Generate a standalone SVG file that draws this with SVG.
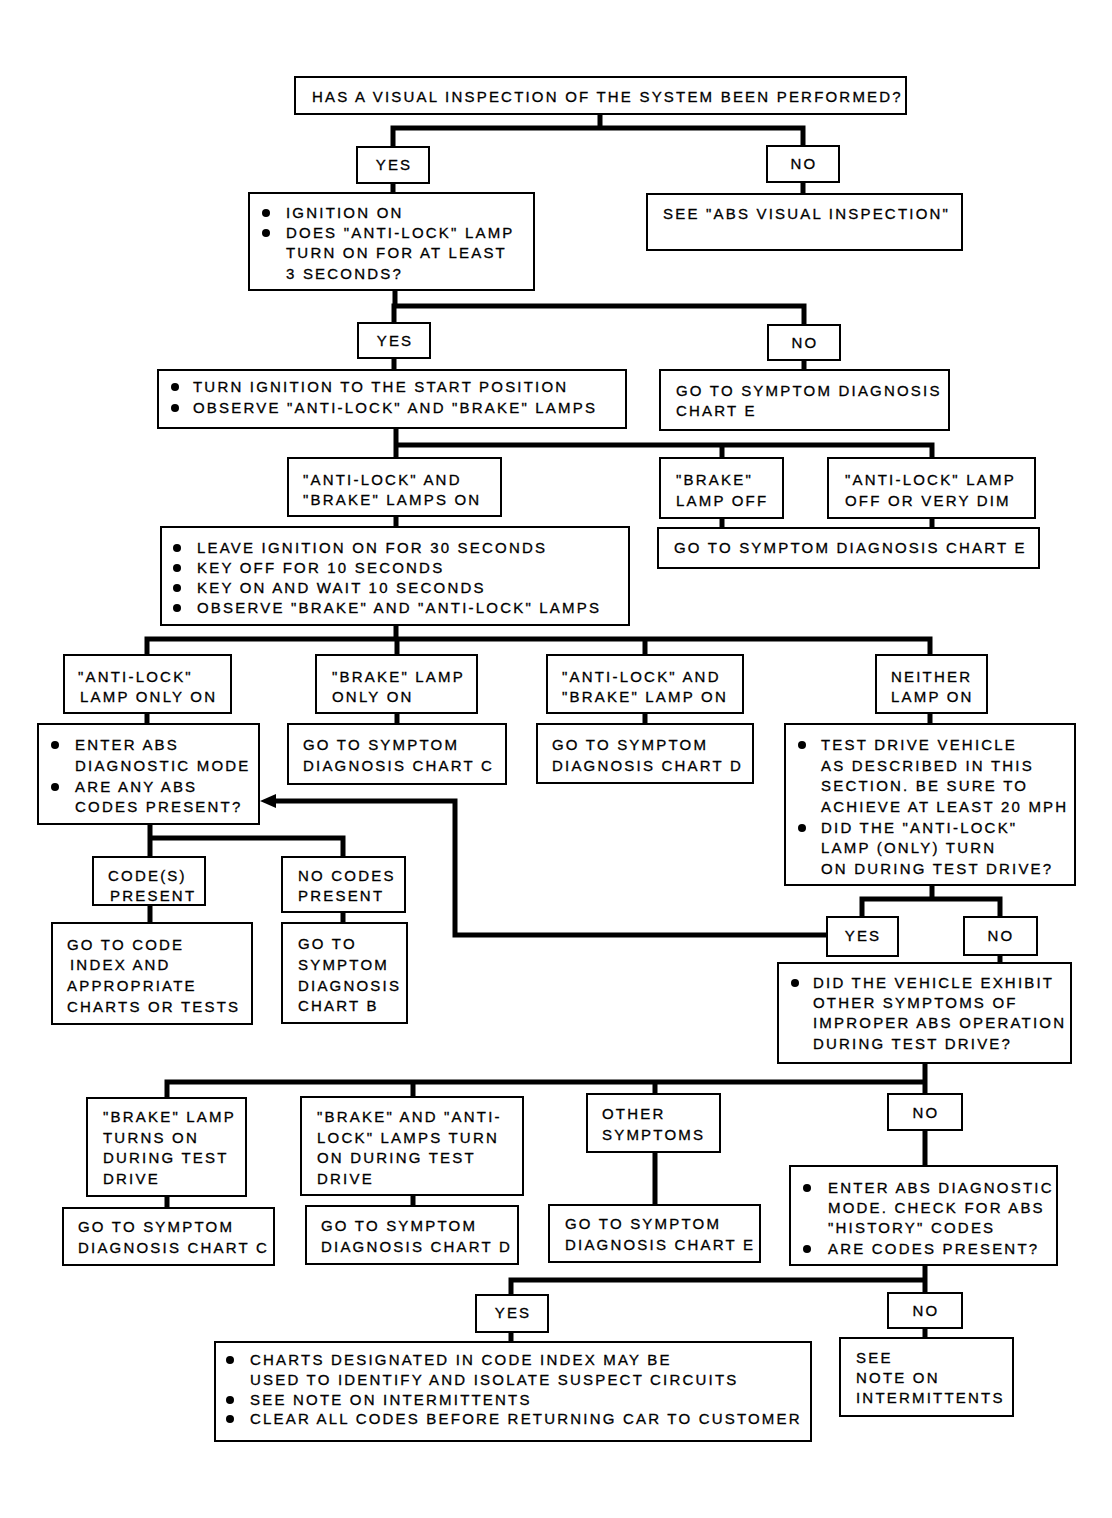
<svg xmlns="http://www.w3.org/2000/svg" width="1112" height="1518" viewBox="0 0 1112 1518">
<style>
.b{fill:#fff;stroke:#000;stroke-width:2}
.t{font-family:"Liberation Sans",Arial,sans-serif;font-size:15px;letter-spacing:2.2px;fill:#000;stroke:#000;stroke-width:0.3}
.m{text-anchor:middle}
.c{fill:none;stroke:#000;stroke-width:5;stroke-linejoin:miter;stroke-linecap:square}
.d{fill:#000}
</style>
<defs>
<marker id="arr" markerUnits="userSpaceOnUse" markerWidth="18" markerHeight="16" refX="8" refY="7" orient="auto">
<path d="M0,0 L16,7 L0,14 z" fill="#000"/>
</marker>
</defs>
<rect width="1112" height="1518" fill="#fff"/>

<g id="connectors">
<path class="c" d="M600,114 V128 M393,147 V128 H803 V146"/>
<path class="c" d="M393,183 V193 M803,182 V194"/>
<path class="c" d="M395,290 V306 H804 V325 M394,306 V323"/>
<path class="c" d="M394,358 V370 M804,360 V370"/>
<path class="c" d="M396,428 V458 M396,445 H932 V458 M722,445 V458"/>
<path class="c" d="M396,516 V527 M722,518 V528 M932,518 V528"/>
<path class="c" d="M396,625 V639 M147,655 V639 H930 V655 M397,639 V655 M645,639 V655"/>
<path class="c" d="M147,713 V724 M397,713 V724 M645,713 V724 M930,713 V724"/>
<path class="c" d="M150,824 V838 H343 V857 M150,838 V857"/>
<path class="c" d="M150,905 V923 M343,912 V923"/>
<path class="c" d="M932,885 V899 M862,917 V899 H1000 V917"/>
<path class="c" d="M1000,955 V963"/>
<path fill="none" stroke="#000" stroke-width="5" d="M827,935 H455 V801 H268" marker-end="url(#arr)"/>
<path class="c" d="M925,1063 V1094 M925,1082 H167 V1098 M413,1082 V1097 M655,1082 V1094"/>
<path class="c" d="M167,1196 V1208 M413,1195 V1206 M655,1152 V1205 M925,1130 V1166"/>
<path class="c" d="M925,1265 V1293 M925,1280 H511 V1295"/>
<path class="c" d="M511,1332 V1342 M925,1328 V1338"/>
</g>

<g id="n_top"><rect class="b" x="295" y="77" width="611" height="37"/>
<text class="t" x="312" y="102">HAS A VISUAL INSPECTION OF THE SYSTEM BEEN PERFORMED?</text></g>

<g id="n_yes1"><rect class="b" x="357" y="147" width="72" height="36"/><text class="t m" x="394" y="170">YES</text></g>
<g id="n_no1"><rect class="b" x="767" y="146" width="72" height="36"/><text class="t m" x="804" y="169">NO</text></g>

<g id="n_ign"><rect class="b" x="249" y="193" width="285" height="97"/>
<circle class="d" cx="266" cy="213" r="4"/><circle class="d" cx="266" cy="233" r="4"/>
<text class="t" x="286" y="218">IGNITION ON</text>
<text class="t" x="286" y="238">DOES "ANTI-LOCK" LAMP</text>
<text class="t" x="286" y="258">TURN ON FOR AT LEAST</text>
<text class="t" x="286" y="279">3 SECONDS?</text></g>

<g id="n_seeabs"><rect class="b" x="647" y="194" width="315" height="56"/>
<text class="t" x="663" y="219">SEE "ABS VISUAL INSPECTION"</text></g>

<g id="n_yes2"><rect class="b" x="358" y="323" width="72" height="35"/><text class="t m" x="395" y="346">YES</text></g>
<g id="n_no2"><rect class="b" x="768" y="325" width="72" height="35"/><text class="t m" x="805" y="348">NO</text></g>

<g id="n_turn"><rect class="b" x="158" y="370" width="468" height="58"/>
<circle class="d" cx="175" cy="387" r="4"/><circle class="d" cx="175" cy="408" r="4"/>
<text class="t" x="193" y="392">TURN IGNITION TO THE START POSITION</text>
<text class="t" x="193" y="413">OBSERVE "ANTI-LOCK" AND "BRAKE" LAMPS</text></g>

<g id="n_goE1"><rect class="b" x="660" y="370" width="289" height="60"/>
<text class="t" x="676" y="396">GO TO SYMPTOM DIAGNOSIS</text>
<text class="t" x="676" y="416">CHART E</text></g>

<g id="n_abon"><rect class="b" x="288" y="458" width="213" height="58"/>
<text class="t" x="303" y="485">"ANTI-LOCK" AND</text>
<text class="t" x="303" y="505">"BRAKE" LAMPS ON</text></g>

<g id="n_brakeoff"><rect class="b" x="660" y="458" width="123" height="60"/>
<text class="t" x="676" y="485">"BRAKE"</text>
<text class="t" x="676" y="506">LAMP OFF</text></g>

<g id="n_aloff"><rect class="b" x="828" y="458" width="207" height="60"/>
<text class="t" x="845" y="485">"ANTI-LOCK" LAMP</text>
<text class="t" x="845" y="506">OFF OR VERY DIM</text></g>

<g id="n_goE2"><rect class="b" x="658" y="528" width="381" height="40"/>
<text class="t" x="674" y="553">GO TO SYMPTOM DIAGNOSIS CHART E</text></g>

<g id="n_leave"><rect class="b" x="161" y="527" width="468" height="98"/>
<circle class="d" cx="177" cy="548" r="4"/><circle class="d" cx="177" cy="568" r="4"/><circle class="d" cx="177" cy="588" r="4"/><circle class="d" cx="177" cy="608" r="4"/>
<text class="t" x="197" y="553">LEAVE IGNITION ON FOR 30 SECONDS</text>
<text class="t" x="197" y="573">KEY OFF FOR 10 SECONDS</text>
<text class="t" x="197" y="593">KEY ON AND WAIT 10 SECONDS</text>
<text class="t" x="197" y="613">OBSERVE "BRAKE" AND "ANTI-LOCK" LAMPS</text></g>

<g id="n_alonly"><rect class="b" x="64" y="655" width="167" height="58"/>
<text class="t" x="78" y="682">"ANTI-LOCK"</text>
<text class="t" x="80" y="702">LAMP ONLY ON</text></g>

<g id="n_brakeonly"><rect class="b" x="316" y="655" width="161" height="58"/>
<text class="t" x="332" y="682">"BRAKE" LAMP</text>
<text class="t" x="332" y="702">ONLY ON</text></g>

<g id="n_abon2"><rect class="b" x="547" y="655" width="196" height="58"/>
<text class="t" x="562" y="682">"ANTI-LOCK" AND</text>
<text class="t" x="562" y="702">"BRAKE" LAMP ON</text></g>

<g id="n_neither"><rect class="b" x="876" y="655" width="111" height="58"/>
<text class="t" x="891" y="682">NEITHER</text>
<text class="t" x="891" y="702">LAMP ON</text></g>

<g id="n_enter1"><rect class="b" x="38" y="724" width="221" height="100"/>
<circle class="d" cx="55" cy="745" r="4"/><circle class="d" cx="55" cy="787" r="4"/>
<text class="t" x="75" y="750">ENTER ABS</text>
<text class="t" x="75" y="771">DIAGNOSTIC MODE</text>
<text class="t" x="75" y="792">ARE ANY ABS</text>
<text class="t" x="75" y="812">CODES PRESENT?</text></g>

<g id="n_goC1"><rect class="b" x="288" y="724" width="218" height="60"/>
<text class="t" x="303" y="750">GO TO SYMPTOM</text>
<text class="t" x="303" y="771">DIAGNOSIS CHART C</text></g>

<g id="n_goD1"><rect class="b" x="537" y="724" width="216" height="59"/>
<text class="t" x="552" y="750">GO TO SYMPTOM</text>
<text class="t" x="552" y="771">DIAGNOSIS CHART D</text></g>

<g id="n_test"><rect class="b" x="785" y="724" width="290" height="161"/>
<circle class="d" cx="802" cy="745" r="4"/><circle class="d" cx="802" cy="828" r="4"/>
<text class="t" x="821" y="750">TEST DRIVE VEHICLE</text>
<text class="t" x="821" y="771">AS DESCRIBED IN THIS</text>
<text class="t" x="821" y="791">SECTION. BE SURE TO</text>
<text class="t" x="821" y="812">ACHIEVE AT LEAST 20 MPH</text>
<text class="t" x="821" y="833">DID THE "ANTI-LOCK"</text>
<text class="t" x="821" y="853">LAMP (ONLY) TURN</text>
<text class="t" x="821" y="874">ON DURING TEST DRIVE?</text></g>

<g id="n_codes"><rect class="b" x="93" y="857" width="112" height="48"/>
<text class="t" x="108" y="881">CODE(S)</text>
<text class="t" x="110" y="901">PRESENT</text></g>

<g id="n_nocodes"><rect class="b" x="282" y="857" width="123" height="55"/>
<text class="t" x="298" y="881">NO CODES</text>
<text class="t" x="298" y="901">PRESENT</text></g>

<g id="n_goindex"><rect class="b" x="52" y="923" width="200" height="101"/>
<text class="t" x="67" y="950">GO TO CODE</text>
<text class="t" x="70" y="970">INDEX AND</text>
<text class="t" x="67" y="991">APPROPRIATE</text>
<text class="t" x="67" y="1012">CHARTS OR TESTS</text></g>

<g id="n_goB"><rect class="b" x="282" y="923" width="125" height="100"/>
<text class="t" x="298" y="949">GO TO</text>
<text class="t" x="298" y="970">SYMPTOM</text>
<text class="t" x="298" y="991">DIAGNOSIS</text>
<text class="t" x="298" y="1011">CHART B</text></g>

<g id="n_yes3"><rect class="b" x="827" y="917" width="71" height="39"/><text class="t m" x="863" y="941">YES</text></g>
<g id="n_no3"><rect class="b" x="964" y="917" width="73" height="38"/><text class="t m" x="1001" y="941">NO</text></g>

<g id="n_did"><rect class="b" x="778" y="963" width="293" height="100"/>
<circle class="d" cx="795" cy="983" r="4"/>
<text class="t" x="813" y="988">DID THE VEHICLE EXHIBIT</text>
<text class="t" x="813" y="1008">OTHER SYMPTOMS OF</text>
<text class="t" x="813" y="1028">IMPROPER ABS OPERATION</text>
<text class="t" x="813" y="1049">DURING TEST DRIVE?</text></g>

<g id="n_brkturns"><rect class="b" x="87" y="1098" width="159" height="98"/>
<text class="t" x="103" y="1122">"BRAKE" LAMP</text>
<text class="t" x="103" y="1143">TURNS ON</text>
<text class="t" x="103" y="1163">DURING TEST</text>
<text class="t" x="103" y="1184">DRIVE</text></g>

<g id="n_baturn"><rect class="b" x="301" y="1097" width="222" height="98"/>
<text class="t" x="317" y="1122">"BRAKE" AND "ANTI-</text>
<text class="t" x="317" y="1143">LOCK" LAMPS TURN</text>
<text class="t" x="317" y="1163">ON DURING TEST</text>
<text class="t" x="317" y="1184">DRIVE</text></g>

<g id="n_other"><rect class="b" x="587" y="1094" width="133" height="58"/>
<text class="t" x="602" y="1119">OTHER</text>
<text class="t" x="602" y="1140">SYMPTOMS</text></g>

<g id="n_no4"><rect class="b" x="888" y="1094" width="74" height="36"/><text class="t m" x="926" y="1118">NO</text></g>

<g id="n_goC2"><rect class="b" x="63" y="1208" width="211" height="57"/>
<text class="t" x="78" y="1232">GO TO SYMPTOM</text>
<text class="t" x="78" y="1253">DIAGNOSIS CHART C</text></g>

<g id="n_goD2"><rect class="b" x="306" y="1206" width="212" height="58"/>
<text class="t" x="321" y="1231">GO TO SYMPTOM</text>
<text class="t" x="321" y="1252">DIAGNOSIS CHART D</text></g>

<g id="n_goE3"><rect class="b" x="549" y="1205" width="211" height="57"/>
<text class="t" x="565" y="1229">GO TO SYMPTOM</text>
<text class="t" x="565" y="1250">DIAGNOSIS CHART E</text></g>

<g id="n_enter2"><rect class="b" x="790" y="1166" width="267" height="99"/>
<circle class="d" cx="807" cy="1188" r="4"/><circle class="d" cx="807" cy="1249" r="4"/>
<text class="t" x="828" y="1193">ENTER ABS DIAGNOSTIC</text>
<text class="t" x="828" y="1213">MODE. CHECK FOR ABS</text>
<text class="t" x="828" y="1233">"HISTORY" CODES</text>
<text class="t" x="828" y="1254">ARE CODES PRESENT?</text></g>

<g id="n_yes5"><rect class="b" x="476" y="1295" width="72" height="37"/><text class="t m" x="513" y="1318">YES</text></g>
<g id="n_no5"><rect class="b" x="888" y="1293" width="74" height="35"/><text class="t m" x="926" y="1316">NO</text></g>

<g id="n_charts"><rect class="b" x="215" y="1342" width="596" height="99"/>
<circle class="d" cx="230" cy="1360" r="4"/><circle class="d" cx="230" cy="1400" r="4"/><circle class="d" cx="230" cy="1419" r="4"/>
<text class="t" x="250" y="1365">CHARTS DESIGNATED IN CODE INDEX MAY BE</text>
<text class="t" x="250" y="1385">USED TO IDENTIFY AND ISOLATE SUSPECT CIRCUITS</text>
<text class="t" x="250" y="1405">SEE NOTE ON INTERMITTENTS</text>
<text class="t" x="250" y="1424">CLEAR ALL CODES BEFORE RETURNING CAR TO CUSTOMER</text></g>

<g id="n_seenote"><rect class="b" x="840" y="1338" width="173" height="78"/>
<text class="t" x="856" y="1363">SEE</text>
<text class="t" x="856" y="1383">NOTE ON</text>
<text class="t" x="856" y="1403">INTERMITTENTS</text></g>
</svg>
